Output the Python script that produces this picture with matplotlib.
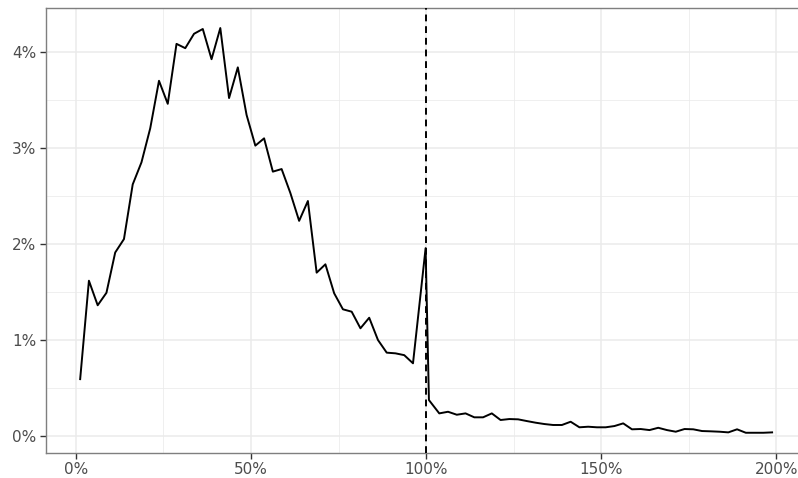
import matplotlib
matplotlib.use("Agg")
import matplotlib.pyplot as plt
from matplotlib.ticker import FuncFormatter, MultipleLocator

# share of observations (%) by ratio bin (%)
below_x = [1.25 + 2.5 * i for i in range(39)]
below_y = [0.59, 1.616, 1.36, 1.49, 1.91, 2.05, 2.62, 2.85, 3.205, 3.70,
           3.46, 4.085, 4.04, 4.19, 4.24, 3.925, 4.25, 3.52, 3.84, 3.344,
           3.024, 3.10, 2.753, 2.78, 2.53, 2.24, 2.447, 1.70, 1.787, 1.485,
           1.318, 1.293, 1.12, 1.23, 0.998, 0.866, 0.859, 0.84, 0.755]
near_x = [99.85, 100.8]
near_y = [1.955, 0.372]
above_x = [103.75 + 2.5 * i for i in range(39)]
above_y = [0.233, 0.25, 0.219, 0.233, 0.192, 0.192, 0.233, 0.164, 0.174,
           0.171, 0.153, 0.136, 0.122, 0.112, 0.112, 0.146, 0.088, 0.094,
           0.088, 0.088, 0.101, 0.129, 0.067, 0.07, 0.059, 0.083, 0.059,
           0.042, 0.07, 0.067, 0.049, 0.046, 0.042, 0.035, 0.067, 0.031,
           0.031, 0.031, 0.035]
ref_line = 100

x = below_x + near_x + above_x
y = below_y + near_y + above_y

fig = plt.figure(figsize=(7.98, 4.78), dpi=100)
ax = fig.add_axes([0.0571, 0.0523, 0.9538, 0.9314])

ax.plot(x, y, color="black", lw=1.4, zorder=3)
ax.axvline(ref_line, color="black", lw=1.4, ls=(0, (3.5, 2.5)), zorder=4)

# ggplot-like expansion of 5%
xr = max(x) - min(x)
yr = max(y) - min(y)
ax.set_xlim(min(x) - 0.05 * xr, max(x) + 0.05 * xr)
ax.set_ylim(min(y) - 0.05 * yr, max(y) + 0.05 * yr)

ax.xaxis.set_major_locator(MultipleLocator(50))
ax.xaxis.set_minor_locator(MultipleLocator(25))
ax.yaxis.set_major_locator(MultipleLocator(1))
ax.yaxis.set_minor_locator(MultipleLocator(0.5))
ax.xaxis.set_major_formatter(FuncFormatter(lambda v, p: "%d%%" % v))
ax.yaxis.set_major_formatter(FuncFormatter(lambda v, p: "%d%%" % v))

ax.grid(which="major", color="#EBEBEB", lw=1.1, zorder=0)
ax.grid(which="minor", color="#EBEBEB", lw=0.55, zorder=0)
ax.set_axisbelow(True)

ax.tick_params(which="major", length=4, width=1, color="#333333",
               labelcolor="#4D4D4D", labelsize=11, pad=2.5)
ax.tick_params(which="minor", length=0)
for s in ax.spines.values():
    s.set_color("#7F7F7F")
    s.set_linewidth(1.0)

fig.savefig("out.png", dpi=100)
